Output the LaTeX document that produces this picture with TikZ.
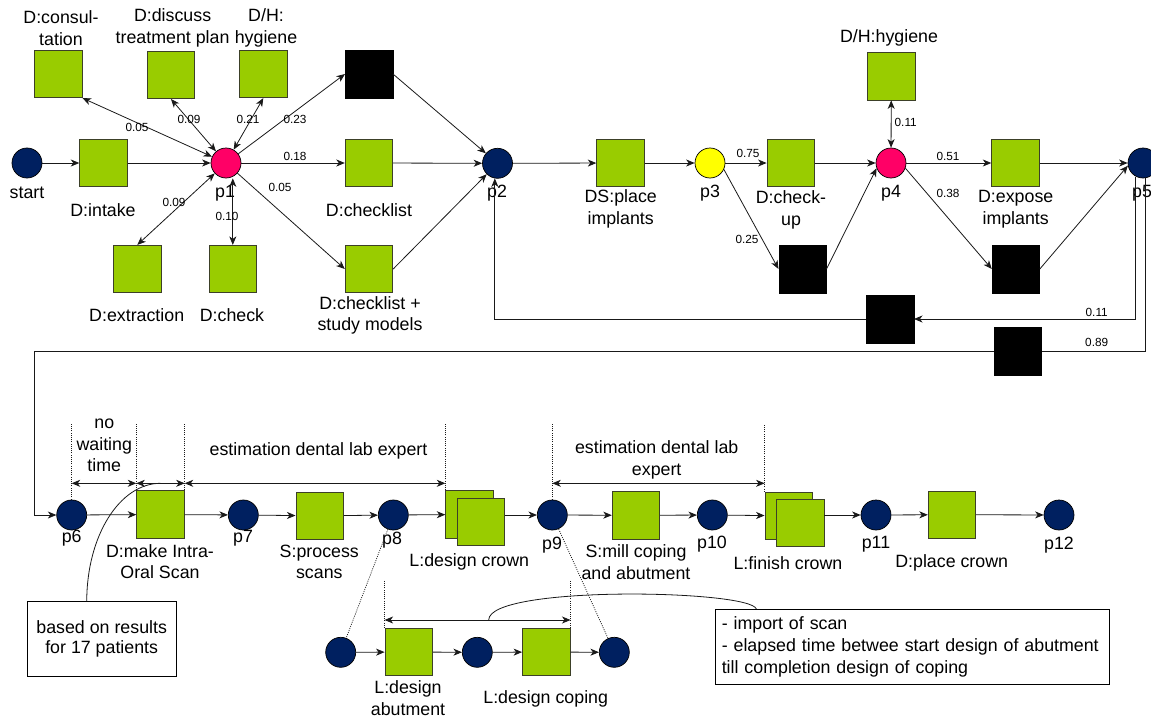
\documentclass[tikz,border=0pt]{standalone}
\usepackage{fontspec}
\setmainfont{Liberation Sans}
\usetikzlibrary{arrows.meta,calc}
\definecolor{trgreen}{RGB}{153,204,0}
\definecolor{trborder}{RGB}{60,64,40}
\definecolor{navy}{RGB}{0,32,96}
\definecolor{hotpink}{RGB}{255,0,102}
\definecolor{pyellow}{RGB}{255,255,0}
\definecolor{wire}{RGB}{25,25,25}
\begin{document}
\begin{tikzpicture}[x=1pt,y=-1pt,
  trbox/.style={rectangle,draw=trborder,fill=trgreen,line width=0.8pt,minimum width=47.6pt,minimum height=47.4pt,inner sep=0pt},
  blkbox/.style={rectangle,draw=black,fill=black,minimum width=47.6pt,minimum height=47.4pt,inner sep=0pt},
  pl/.style={circle,draw=black,fill=navy,line width=0.7pt,minimum size=30pt,inner sep=0pt},
  lbl/.style={font=\fontsize{17.8}{21.5}\selectfont,align=center,inner sep=0pt},
  problbl/.style={font=\fontsize{11.8}{13}\selectfont,inner sep=0pt},
  tip/.tip={Stealth[length=8.5pt,width=7pt,inset=2.5pt]},
  fwd/.style={draw=wire,line width=0.8pt,-tip},
  twoway/.style={draw=wire,line width=0.8pt,tip-tip},
  plainline/.style={draw=wire,line width=0.8pt},
  dotline/.style={draw=wire,line width=0.7pt,dash pattern=on 1pt off 1.2pt},
  notebox/.style={rectangle,draw=black,line width=0.8pt,font=\fontsize{17.8}{20.5}\selectfont,align=center,inner sep=0pt}
]
\useasboundingbox (0,0) rectangle (1151,717);

% ---------- intake and first choice ----------
\node[pl] (start) at (27,163) {};
\node[lbl] at (27,193) {start};
\node[trbox] (intake) at (103.5,163) {};
\node[lbl] at (103,210) {D:intake};
\node[pl,fill=hotpink] (p1) at (226,163) {};
\node[lbl] at (225,193) {p1};
\node[trbox] (cons) at (58.3,74) {};
\node[lbl] at (61,28) {D:consul-\\tation};
\node[trbox] (disc) at (171,75) {};
\node[lbl] at (172.6,28) {D:discuss\\treatment plan};
\node[trbox] (hyg1) at (263.3,74) {};
\node[lbl] at (266,28) {D/H:\\hygiene};
\node[blkbox] (blk1) at (369,74) {};
\node[trbox] (chk) at (369,163) {};
\node[lbl] at (369,210) {D:checklist};
\node[trbox] (chkp) at (369,269) {};
\node[lbl] at (370,315.5) {D:checklist +\\study models};
\node[trbox] (extr) at (137.3,269) {};
\node[lbl] at (136.7,315) {D:extraction};
\node[trbox] (chkd) at (232.8,269) {};
\node[lbl] at (232,315) {D:check};

% ---------- implants ----------
\node[pl] (p2) at (497.5,163.3) {};
\node[lbl] at (497,193) {p2};
\node[trbox] (ds) at (620.5,163) {};
\node[lbl] at (620.7,209) {DS:place\\implants};
\node[pl,fill=pyellow] (p3) at (710,163) {};
\node[lbl] at (710,193) {p3};
\node[trbox] (cu) at (790.8,163) {};
\node[lbl] at (791,210) {D:check-\\up};
\node[blkbox] (blk2) at (802.5,269) {};
\node[pl,fill=hotpink] (p4) at (891,163) {};
\node[lbl] at (891,193) {p4};
\node[trbox] (hyg2) at (891.3,76.3) {};
\node[lbl] at (889,37.7) {D/H:hygiene};
\node[trbox] (expo) at (1015.5,163) {};
\node[lbl] at (1015.7,209) {D:expose\\implants};
\node[blkbox] (blk3) at (1015.8,269) {};
\node[pl] (p5) at (1143,163) {};
\node[lbl] at (1142,193) {p5};
\node[blkbox] (blk4) at (890,319) {};
\node[blkbox] (blk5) at (1017.5,351) {};

% ---------- crown ----------
\node[pl] (p6) at (71.7,515) {};
\node[lbl] at (71.7,538) {p6};
\node[trbox] (scan) at (160.5,514.5) {};
\node[lbl] at (160,561.7) {D:make Intra-\\Oral Scan};
\node[pl] (p7) at (243.3,515) {};
\node[lbl] at (243,538) {p7};
\node[trbox] (proc) at (319.7,515.8) {};
\node[lbl] at (319.3,562) {S:process\\scans};
\node[pl] (p8) at (393.3,515) {};
\node[lbl] at (392,540) {p8};
\node[trbox] (crownb) at (469.5,514.5) {};
\node[trbox] (crownf) at (480.8,522) {};
\node[lbl] at (469.3,562.3) {L:design crown};
\node[pl] (p9) at (552.3,515) {};
\node[lbl] at (552,545) {p9};
\node[trbox] (mill) at (636,515.3) {};
\node[lbl] at (636,562.2) {S:mill coping\\and abutment};
\node[pl] (p10) at (712.3,515) {};
\node[lbl] at (712,544) {p10};
\node[trbox] (finb) at (788.8,515.8) {};
\node[trbox] (finf) at (800.2,522.8) {};
\node[lbl] at (788,563.3) {L:finish crown};
\node[pl] (p11) at (876,515) {};
\node[lbl] at (876,544.3) {p11};
\node[trbox] (placec) at (952,514.7) {};
\node[lbl] at (951.7,562.7) {D:place crown};
\node[pl] (p12) at (1059,515) {};
\node[lbl] at (1059,544.7) {p12};

% ---------- detail of the lab design ----------
\node[pl] (sa) at (340.7,652.3) {};
\node[trbox] (abut) at (408.8,652) {};
\node[lbl] at (408,698.3) {L:design\\abutment};
\node[pl] (sb) at (477.3,652.3) {};
\node[trbox] (cop) at (546.3,652) {};
\node[lbl] at (545.7,699) {L:design coping};
\node[pl] (sc) at (614.3,652.3) {};

% ---------- notes ----------
\node[notebox,minimum width=148.7pt,minimum height=74.3pt] (note1) at (101.7,638.9) {based on results\\for 17 patients};
\node[notebox,minimum width=394.3pt,minimum height=74.7pt,text width=380.9pt,align=left,inner xsep=6.7pt,font=\fontsize{17.8}{21.8}\selectfont] (note2) at (912.2,646.7) {- import of scan\\- elapsed time betwee start design of abutment\\till completion design of coping};

% ---------- connectors, first part ----------
\draw[fwd] (start) -- (intake);
\draw[fwd] (intake) -- (p1);
\draw[twoway] (cons.south east) -- (p1);
\draw[twoway] (disc.south) -- (p1);
\draw[twoway] (hyg1.south) -- (p1);
\draw[fwd] (p1) -- (blk1.west);
\draw[fwd] (p1) -- (chk.west);
\draw[fwd] (p1) -- (chkp.west);
\draw[twoway] (extr.north) -- (p1);
\draw[twoway] (chkd.north) -- (chkd.north |- p1.south);
\draw[fwd] (blk1.east) -- (p2);
\draw[fwd] (chk) -- (p2);
\draw[fwd] (chkp.east) -- (p2);
\draw[fwd] (p2) -- (ds);
\draw[fwd] (ds) -- (p3);
\draw[fwd] (p3) -- (cu);
\draw[fwd] (p3.-25) -- (blk2.west);
\draw[fwd] (cu) -- (p4);
\draw[fwd] (blk2.east) -- (p4.200);
\draw[twoway] (hyg2) -- (p4);
\draw[fwd] (p4) -- (expo);
\draw[fwd] (p4.-20) -- (blk3.west);
\draw[fwd] (expo) -- (p5);
\draw[fwd] (blk3.east) -- (p5.190);
\draw[fwd] (p5.-118) |- (blk4.east);
\draw[fwd] (blk4.west) -| (p2.-100);
\draw[plainline] (p5.-80) |- (blk5.east);
\coordinate (turn) at (34.3,515);
\draw[fwd] (blk5.west) -| (turn) -- (p6);

% probabilities
\node[problbl] at (137,127) {0.05};
\node[problbl] at (189,119) {0.09};
\node[problbl] at (248,119) {0.21};
\node[problbl] at (295,119) {0.23};
\node[problbl] at (295,156) {0.18};
\node[problbl] at (280,187) {0.05};
\node[problbl] at (174,202) {0.09};
\node[problbl] at (227,216) {0.10};
\node[problbl] at (748,153) {0.75};
\node[problbl] at (747,239) {0.25};
\node[problbl] at (905.7,122.7) {0.11};
\node[problbl] at (948,156.7) {0.51};
\node[problbl] at (948,193) {0.38};
\node[problbl] at (1096.7,312.3) {0.11};
\node[problbl] at (1096.7,342.7) {0.89};

% ---------- connectors, crown part ----------
\draw[fwd] (p6) -- (scan);
\draw[fwd] (scan) -- (p7);
\draw[fwd] (p7) -- (proc);
\draw[fwd] (proc) -- (p8);
\draw[fwd] (p8) -- (crownb);
\draw[fwd] (crownf.east |- p9) -- (p9);
\draw[fwd] (p9) -- (mill);
\draw[fwd] (mill) -- (p10);
\draw[fwd] (p10) -- (finb);
\draw[fwd] (finf.east |- p11) -- (p11);
\draw[fwd] (p11) -- (placec);
\draw[fwd] (placec) -- (p12);

\draw[fwd] (sa) -- (abut);
\draw[fwd] (abut) -- (sb);
\draw[fwd] (sb) -- (cop);
\draw[fwd] (cop) -- (sc);
\draw[dotline] (p8) -- (sa);
\draw[dotline] (p9) -- (sc);

% ---------- durations ----------
\coordinate (dtop) at (0,424);
\coordinate (dln) at (0,483.3);
\draw[dotline] (p6.north) -- (p6.north |- dtop);
\draw[dotline] (scan.north west) -- (scan.north west |- dtop);
\draw[dotline] (scan.north east) -- (scan.north east |- dtop);
\draw[dotline] (crownb.north west) -- (crownb.north west |- dtop);
\draw[dotline] (p9.north) -- (p9.north |- dtop);
\draw[dotline] (finb.north west) -- (finb.north west |- dtop);
\draw[twoway] (p6.north |- dln) -- (scan.north west |- dln);
\draw[twoway] (scan.north west |- dln) -- (scan.north east |- dln);
\draw[twoway] (scan.north east |- dln) -- (crownb.north west |- dln);
\draw[twoway] (p9.north |- dln) -- (finb.north west |- dln);
\node[lbl] at (104.3,445.3) {no\\waiting\\time};
\node[lbl] at (318.5,450.7) {estimation dental lab expert};
\node[lbl] at (656.7,460) {estimation dental lab\\expert};

\coordinate (dtop2) at (0,580);
\coordinate (dln2) at (0,620);
\draw[dotline] (abut.north west) -- (abut.north west |- dtop2);
\draw[dotline] (cop.north east) -- (cop.north east |- dtop2);
\draw[twoway] (abut.north west |- dln2) -- (cop.north east |- dln2);

% ---------- note callouts ----------
\coordinate (m1) at ($(scan.north west |- dln)!0.5!(scan.north east |- dln)$);
\draw[plainline] ($(note1.north west)!0.4!(note1.north east)$) .. controls +(0,-65.7) and +(-40.7,0) .. (m1);
\coordinate (m2) at ($(abut.north west |- dln2)!0.56!(cop.north east |- dln2)$);
\draw[plainline] (m2) .. controls +(0,-35) and +(-6.7,-19.3) .. ($(note2.north west)+(41.7,0)$);
\end{tikzpicture}
\end{document}
